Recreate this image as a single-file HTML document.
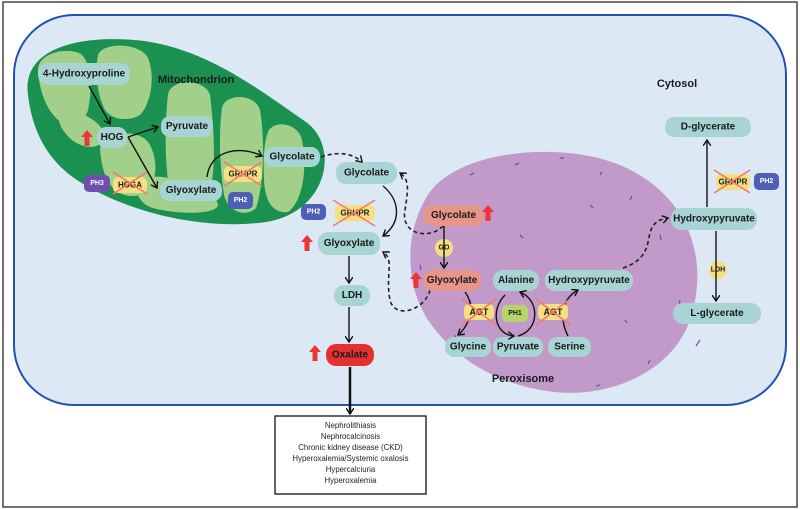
<!DOCTYPE html>
<html><head><meta charset="utf-8"><style>
html,body{margin:0;padding:0;background:#fff;}
svg{display:block;font-family:"Liberation Sans",sans-serif;}
.n{fill:#a8d5d3;}
.t{font-weight:bold;font-size:10px;fill:#1a1a1a;text-anchor:middle;dominant-baseline:central;}
.s{font-weight:bold;font-size:7px;fill:#fff;text-anchor:middle;dominant-baseline:central;}
.y{fill:#f5df80;}
.x{stroke:#f07a6a;stroke-width:1.6;}
.a{stroke:#111;stroke-width:1.4;fill:none;}
.d{stroke:#222;stroke-width:1.6;fill:none;stroke-dasharray:4 3;}
.r{fill:#ee3535;}
</style></head><body>
<svg width="800" height="509" viewBox="0 0 800 509">
<defs>
<marker id="m" markerWidth="8" markerHeight="8" refX="6" refY="4" orient="auto" markerUnits="userSpaceOnUse"><path d="M0,0 L6,4 L0,8" fill="none" stroke="#111" stroke-width="1.4"/></marker>
<path id="up" d="M-6,7 L0,0 L6,7 L2.5,7 L2.5,16 L-2.5,16 L-2.5,7 Z" fill="#ee3535"/>
</defs>
<rect x="3" y="2" width="794" height="505" fill="#fff" stroke="#444" stroke-width="1.5"/>
<rect x="14" y="15" width="772" height="390" rx="60" fill="#dde8f5" stroke="#2451b0" stroke-width="2"/>
<!-- mitochondrion -->
<path d="M28,95 C22,52 70,35 135,40 C205,46 262,92 306,122 C342,148 326,218 258,223 C198,229 128,212 80,182 C45,160 32,128 28,95 Z" fill="#1a9150"/>
<g fill="#a2d08a">
<path d="M38,72 C36,52 70,46 82,55 C92,65 92,92 88,110 C84,125 66,128 56,118 C46,108 40,92 38,72Z"/>
<path d="M98,55 C102,42 140,42 148,58 C156,78 150,105 140,115 C128,122 110,120 104,108 C96,90 95,70 98,55Z"/>
<path d="M100,148 C104,130 142,128 150,145 C160,165 156,188 140,195 C118,200 102,185 100,148Z"/>
<path d="M168,95 C170,78 205,78 210,95 C215,135 216,175 208,200 C200,212 175,210 170,195 C164,160 165,120 168,95Z"/>
<path d="M222,108 C225,93 255,93 260,110 C265,140 264,185 256,208 C246,218 228,212 224,195 C219,160 219,130 222,108Z"/>
<path d="M268,132 C273,120 298,122 302,140 C308,170 302,202 288,212 C272,214 265,200 264,180 C263,160 264,142 268,132Z"/>
<path d="M140,178 C160,172 215,185 218,205 C216,216 170,214 150,207 C136,201 133,185 140,178Z"/>
<path d="M60,110 C80,110 100,120 105,135 C102,150 85,150 72,140 C62,132 55,118 60,110Z"/>
</g>
<text x="196" y="80" class="t" style="font-size:11px">Mitochondrion</text>
<text x="677" y="84" class="t" style="font-size:11px">Cytosol</text>
<!-- peroxisome -->
<path d="M425,200 C450,150 560,140 620,165 C690,195 710,260 690,320 C672,372 610,398 555,392 C500,386 455,360 428,320 C405,285 405,235 425,200Z" fill="#c19ac9"/>
<g stroke="#6a50b5" stroke-width="1.3">
<line x1="470" y1="175" x2="474" y2="173"/><line x1="515" y1="165" x2="519" y2="163"/><line x1="560" y1="158" x2="564" y2="158"/><line x1="600" y1="175" x2="602" y2="172"/><line x1="630" y1="200" x2="632" y2="196"/><line x1="660" y1="235" x2="661" y2="240"/><line x1="680" y1="300" x2="679" y2="305"/><line x1="650" y1="360" x2="648" y2="364"/><line x1="600" y1="385" x2="596" y2="386"/><line x1="455" y1="335" x2="456" y2="339"/><line x1="420" y1="265" x2="421" y2="270"/><line x1="590" y1="205" x2="593" y2="208"/><line x1="520" y1="235" x2="523" y2="238"/><line x1="625" y1="320" x2="627" y2="323"/><line x1="470" y1="300" x2="471" y2="304"/><line x1="700" y1="340" x2="696" y2="346"/></g>
<text x="523" y="379" class="t" style="font-size:11px">Peroxisome</text>
<!-- mito nodes -->
<rect x="38" y="63" width="92" height="22" rx="10" class="n"/><text x="84" y="74" class="t">4-Hydroxyproline</text>
<rect x="97" y="127" width="30" height="21" rx="9" class="n"/><text x="112" y="137.5" class="t">HOG</text>
<rect x="161" y="116" width="52" height="21" rx="9" class="n"/><text x="187" y="126.5" class="t">Pyruvate</text>
<rect x="264" y="147" width="56" height="20" rx="9" class="n"/><text x="292" y="157" class="t">Glycolate</text>
<rect x="160" y="180" width="62" height="21" rx="9" class="n"/><text x="191" y="190.5" class="t">Glyoxylate</text>
<rect x="84" y="175" width="26" height="17" rx="5" fill="#6e4fb0"/><text x="97" y="183.5" class="s">PH3</text>
<rect x="113" y="177" width="34" height="16" rx="5" class="y"/><text x="130" y="185" class="t" style="font-size:8px">HOGA</text>
<line x1="113" y1="172" x2="147" y2="194" class="x"/><line x1="113" y1="194" x2="147" y2="172" class="x"/>
<rect x="224" y="166" width="38" height="16" rx="5" class="y"/><text x="243" y="174" class="t" style="font-size:8px">GRHPR</text>
<line x1="224" y1="162" x2="262" y2="186" class="x"/><line x1="224" y1="186" x2="262" y2="162" class="x"/>
<rect x="228" y="192" width="25" height="17" rx="5" fill="#4e5fb8"/><text x="240.5" y="200.5" class="s">PH2</text>
<path d="M89,86 L110,124" class="a" marker-end="url(#m)"/>
<path d="M128,137 L158,127" class="a" marker-end="url(#m)"/>
<path d="M128,137 L157,188" class="a" marker-end="url(#m)"/>
<path d="M207,177 C210,150 240,145 262,156" class="a" marker-end="url(#m)"/>
<use href="#up" x="87" y="130"/>
<!-- cytosol middle -->
<rect x="336" y="162" width="61" height="22" rx="10" class="n"/><text x="366.5" y="173" class="t">Glycolate</text>
<rect x="301" y="204" width="25" height="16" rx="5" fill="#4e5fb8"/><text x="313.5" y="212" class="s">PH2</text>
<rect x="335" y="205" width="40" height="16" rx="5" class="y"/><text x="355" y="213" class="t" style="font-size:8px">GRHPR</text>
<line x1="333" y1="200" x2="375" y2="226" class="x"/><line x1="333" y1="226" x2="375" y2="200" class="x"/>
<rect x="318" y="232" width="62" height="23" rx="10" class="n"/><text x="349" y="243.5" class="t">Glyoxylate</text>
<use href="#up" x="307" y="235"/>
<rect x="334" y="285" width="36" height="21" rx="10" class="n"/><text x="352" y="295.5" class="t">LDH</text>
<rect x="326" y="344" width="48" height="22" rx="10" fill="#e53030"/><text x="350" y="355" class="t">Oxalate</text>
<use href="#up" x="315" y="345"/>
<path d="M383,186 C400,200 402,222 383,236" class="a" marker-end="url(#m)"/>
<path d="M349,256 L349,283" class="a" marker-end="url(#m)"/>
<path d="M349,307 L349,342" class="a" marker-end="url(#m)"/>
<path d="M350,367 L350,414" stroke="#111" stroke-width="2.5" marker-end="url(#m)"/>
<path d="M321,157 C340,150 355,155 362,162" class="d" marker-end="url(#m)"/>
<path d="M443,226 C430,240 400,235 405,210 C408,190 410,180 400,173" class="d" marker-end="url(#m)"/>
<path d="M430,290 C425,310 395,320 390,300 C385,275 395,260 383,252" class="d" marker-end="url(#m)"/>
<path d="M623,268 C660,255 640,230 660,220 L668,218" class="d" marker-end="url(#m)"/>
<!-- box -->
<rect x="275" y="416" width="151" height="78" fill="#fff" stroke="#111" stroke-width="1.3"/>
<g font-size="7.8" fill="#222" text-anchor="middle">
<text x="350.5" y="428">Nephrolithiasis</text><text x="350.5" y="439">Nephrocalcinosis</text><text x="350.5" y="450">Chronic kidney disease (CKD)</text><text x="350.5" y="461">Hyperoxalemia/Systemic oxalosis</text><text x="350.5" y="472">Hypercalciuria</text><text x="350.5" y="483">Hyperoxalemia</text></g>
<!-- peroxisome nodes -->
<rect x="423" y="205" width="61" height="21" rx="10" fill="#e8968a"/><text x="453.5" y="215.5" class="t">Glycolate</text>
<use href="#up" x="488" y="205"/>
<circle cx="444" cy="248" r="9" class="y"/><text x="444" y="248" class="t" style="font-size:7px">GO</text>
<path d="M444,226 L444,268" class="a" marker-end="url(#m)"/>
<rect x="423" y="270" width="58" height="21" rx="10" fill="#e8968a"/><text x="452" y="280.5" class="t">Glyoxylate</text>
<use href="#up" x="416" y="272"/>
<rect x="493" y="270" width="46" height="21" rx="10" class="n"/><text x="516" y="280.5" class="t">Alanine</text>
<rect x="545" y="270" width="88" height="21" rx="10" class="n"/><text x="589" y="280.5" class="t">Hydroxypyruvate</text>
<rect x="445" y="337" width="46" height="20" rx="9" class="n"/><text x="468" y="347" class="t">Glycine</text>
<rect x="493" y="337" width="50" height="20" rx="9" class="n"/><text x="518" y="347" class="t">Pyruvate</text>
<rect x="548" y="337" width="43" height="20" rx="9" class="n"/><text x="569.5" y="347" class="t">Serine</text>
<path d="M465,292 C475,305 470,325 458,335" class="a" marker-end="url(#m)"/>
<path d="M505,295 C490,310 495,335 514,336" class="a" marker-end="url(#m)"/>
<path d="M518,336 C540,330 540,300 520,292" class="a" marker-end="url(#m)"/>
<path d="M568,336 C560,320 560,300 578,290" class="a" marker-end="url(#m)"/>
<rect x="464" y="304" width="30" height="16" rx="5" class="y"/><text x="479" y="312" class="t" style="font-size:9px">AGT</text>
<line x1="462" y1="299" x2="496" y2="325" class="x"/><line x1="462" y1="325" x2="496" y2="299" class="x"/>
<rect x="502" y="305" width="26" height="17" rx="5" fill="#b5d56a"/><text x="515" y="313.5" class="t" style="font-size:7px">PH1</text>
<rect x="538" y="304" width="30" height="16" rx="5" class="y"/><text x="553" y="312" class="t" style="font-size:9px">AGT</text>
<line x1="536" y1="299" x2="570" y2="325" class="x"/><line x1="536" y1="325" x2="570" y2="299" class="x"/>
<!-- right cytosol -->
<rect x="665" y="117" width="86" height="20" rx="9" class="n"/><text x="708" y="127" class="t">D-glycerate</text>
<rect x="716" y="174" width="34" height="16" rx="5" class="y"/><text x="733" y="182" class="t" style="font-size:8px">GRHPR</text>
<line x1="714" y1="170" x2="750" y2="193" class="x"/><line x1="714" y1="193" x2="750" y2="170" class="x"/>
<rect x="754" y="173" width="25" height="17" rx="5" fill="#4e5fb8"/><text x="766.5" y="181.5" class="s">PH2</text>
<rect x="671" y="208" width="86" height="22" rx="10" class="n"/><text x="714" y="219" class="t">Hydroxypyruvate</text>
<circle cx="718" cy="270" r="9" class="y"/><text x="718" y="270" class="t" style="font-size:7px">LDH</text>
<rect x="673" y="303" width="88" height="21" rx="10" class="n"/><text x="717" y="313.5" class="t">L-glycerate</text>
<path d="M707,207 L707,140" class="a" marker-end="url(#m)"/>
<path d="M716,231 L716,301" class="a" marker-end="url(#m)"/>
</svg>
</body></html>
